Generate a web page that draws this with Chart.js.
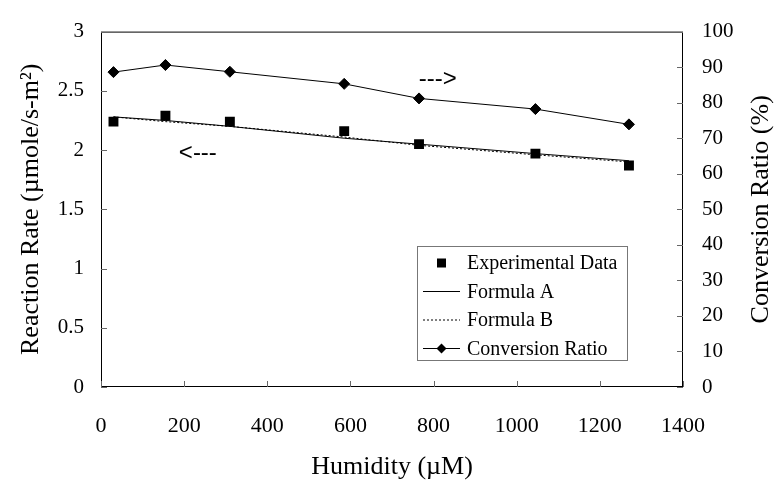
<!DOCTYPE html>
<html>
<head>
<meta charset="utf-8">
<script src="https://cdn.jsdelivr.net/npm/chart.js@4"></script>
<style>
  html, body { margin: 0; padding: 0; background: #fff; }
  #wrap { width: 775px; height: 484px; }
</style>
</head>
<body>
<div id="wrap"><canvas id="chart" width="775" height="484"></canvas></div>
<script>
// values
const humidity = [30, 155, 310, 585, 765, 1045, 1270];
const experimental = [2.24, 2.29, 2.24, 2.16, 2.05, 1.97, 1.87];
const formulaA = [2.28, 2.25, 2.20, 2.10, 2.05, 1.97, 1.91];
const formulaB = [2.28, 2.24, 2.20, 2.11, 2.04, 1.96, 1.90];
const conversion = [88.6, 90.6, 88.7, 85.3, 81.2, 78.2, 73.9];

const xTicks = [0, 200, 400, 600, 800, 1000, 1200, 1400];
const rateTicks = [0, 0.5, 1, 1.5, 2, 2.5, 3];
const ratioTicks = [0, 10, 20, 30, 40, 50, 60, 70, 80, 90, 100];

const serif = '"Liberation Serif", "Times New Roman", serif';

function pts(xs, ys) {
  return xs.map((x, i) => ({ x: x, y: ys[i] }));
}

// frame around the plot and tick marks pointing inward
const framePlugin = {
  id: 'frame',
  afterDatasetsDraw(chart) {
    const ctx = chart.ctx;
    const a = chart.chartArea;
    const s = chart.scales;
    ctx.save();
    ctx.strokeStyle = '#000';
    ctx.lineWidth = 1;
    ctx.strokeRect(a.left + 0.5, a.top + 0.5, a.right - a.left - 1, a.bottom - a.top - 1);
    ctx.strokeStyle = '#666';
    ctx.beginPath();
    xTicks.forEach(v => {
      const px = Math.round(s.x.getPixelForValue(v)) + 0.5;
      ctx.moveTo(px, a.bottom);
      ctx.lineTo(px, a.bottom - 6);
    });
    rateTicks.forEach(v => {
      const py = Math.round(s.y.getPixelForValue(v)) + 0.5;
      ctx.moveTo(a.left, py);
      ctx.lineTo(a.left + 6, py);
    });
    ratioTicks.forEach(v => {
      const py = Math.round(s.y1.getPixelForValue(v)) + 0.5;
      ctx.moveTo(a.right, py);
      ctx.lineTo(a.right - 6, py);
    });
    ctx.stroke();

    // direction hints
    ctx.fillStyle = '#000';
    ctx.font = '24px "Liberation Sans", Arial, sans-serif';
    ctx.textAlign = 'center';
    ctx.textBaseline = 'middle';
    ctx.fillText('--->', s.x.getPixelForValue(810), s.y1.getPixelForValue(86.6));
    ctx.fillText('<---', s.x.getPixelForValue(233), s.y.getPixelForValue(1.97));

    // right axis title, reading bottom to top
    ctx.font = '26px ' + serif;
    ctx.translate(761, (a.top + a.bottom) / 2);
    ctx.rotate(-Math.PI / 2);
    ctx.fillText('Conversion Ratio (%)', 0, 0);
    ctx.restore();
  }
};

// legend box inside the plot
const legendPlugin = {
  id: 'boxLegend',
  afterDraw(chart) {
    const ctx = chart.ctx;
    const a = chart.chartArea;
    const left = a.right - 266, top = a.bottom - 141;
    const w = 210, h = 114, step = 28.5;
    ctx.save();
    ctx.fillStyle = '#fff';
    ctx.fillRect(left, top, w, h);
    ctx.strokeStyle = '#777';
    ctx.lineWidth = 1;
    ctx.strokeRect(left + 0.5, top + 0.5, w, h);
    ctx.font = '20px ' + serif;
    ctx.textBaseline = 'middle';
    ctx.textAlign = 'left';
    ctx.fillStyle = '#000';
    const names = ['Experimental Data', 'Formula A', 'Formula B', 'Conversion Ratio'];
    names.forEach((name, i) => {
      const cy = top + 17 + i * step;
      const x0 = left + 6, x1 = left + 43, cx = (x0 + x1) / 2;
      ctx.strokeStyle = '#000';
      ctx.lineWidth = 1;
      if (i === 0) {
        ctx.fillRect(cx - 4.5, cy - 4.5, 9, 9);
      } else {
        ctx.setLineDash(i === 2 ? [2, 2] : []);
        ctx.beginPath();
        ctx.moveTo(x0, cy);
        ctx.lineTo(x1, cy);
        ctx.stroke();
        ctx.setLineDash([]);
        if (i === 3) {
          ctx.beginPath();
          ctx.moveTo(cx, cy - 5);
          ctx.lineTo(cx + 5, cy);
          ctx.lineTo(cx, cy + 5);
          ctx.lineTo(cx - 5, cy);
          ctx.closePath();
          ctx.fill();
        }
      }
      ctx.fillText(name, left + 50, cy + 1);
    });
    ctx.restore();
  }
};

const plainLabel = v => String(v);

new Chart(document.getElementById('chart'), {
  type: 'scatter',
  data: {
    datasets: [
      {
        label: 'Experimental Data',
        data: pts(humidity, experimental),
        yAxisID: 'y',
        showLine: false,
        pointStyle: 'rect',
        pointRadius: 7,
        backgroundColor: '#000',
        borderColor: '#000',
        borderWidth: 0
      },
      {
        label: 'Formula A',
        data: pts(humidity, formulaA),
        yAxisID: 'y',
        showLine: true,
        pointRadius: 0,
        borderColor: '#000',
        borderWidth: 1
      },
      {
        label: 'Formula B',
        data: pts(humidity, formulaB),
        yAxisID: 'y',
        showLine: true,
        pointRadius: 0,
        borderColor: '#000',
        borderWidth: 1,
        borderDash: [2, 2]
      },
      {
        label: 'Conversion Ratio',
        data: pts(humidity, conversion),
        yAxisID: 'y1',
        showLine: true,
        pointStyle: 'rectRot',
        pointRadius: 5.5,
        backgroundColor: '#000',
        borderColor: '#000',
        borderWidth: 1
      }
    ]
  },
  options: {
    responsive: false,
    animation: false,
    layout: { padding: { top: 22, left: 0, right: 0, bottom: 0 } },
    plugins: {
      legend: { display: false },
      tooltip: { enabled: false }
    },
    scales: {
      x: {
        type: 'linear',
        min: 0,
        max: 1400,
        afterBuildTicks: s => { s.ticks = xTicks.map(v => ({ value: v })); },
        afterFit: s => { s.height = 97; },
        grid: { display: false, drawTicks: false },
        border: { display: false },
        ticks: { padding: 26, color: '#000', font: { family: serif, size: 22 }, callback: plainLabel },
        title: {
          display: true,
          text: 'Humidity (\u00b5M)',
          color: '#000',
          padding: { top: 0, bottom: 1 },
          font: { family: serif, size: 26 }
        }
      },
      y: {
        type: 'linear',
        position: 'left',
        min: 0,
        max: 3,
        afterBuildTicks: s => { s.ticks = rateTicks.map(v => ({ value: v })); },
        afterFit: s => { s.width = 101; },
        grid: { display: false, drawTicks: false },
        border: { display: false },
        ticks: { padding: 17, color: '#000', font: { family: serif, size: 21 }, callback: plainLabel },
        title: {
          display: true,
          text: 'Reaction Rate (\u00b5mole/s-m\u00b2)',
          color: '#000',
          padding: { top: 16, bottom: 0 },
          font: { family: serif, size: 26 }
        }
      },
      y1: {
        type: 'linear',
        position: 'right',
        min: 0,
        max: 100,
        afterBuildTicks: s => { s.ticks = ratioTicks.map(v => ({ value: v })); },
        afterFit: s => { s.width = 92; },
        grid: { display: false, drawTicks: false },
        border: { display: false },
        ticks: { padding: 19, color: '#000', font: { family: serif, size: 21 }, callback: plainLabel }
      }
    }
  },
  plugins: [framePlugin, legendPlugin]
});
</script>
</body>
</html>
